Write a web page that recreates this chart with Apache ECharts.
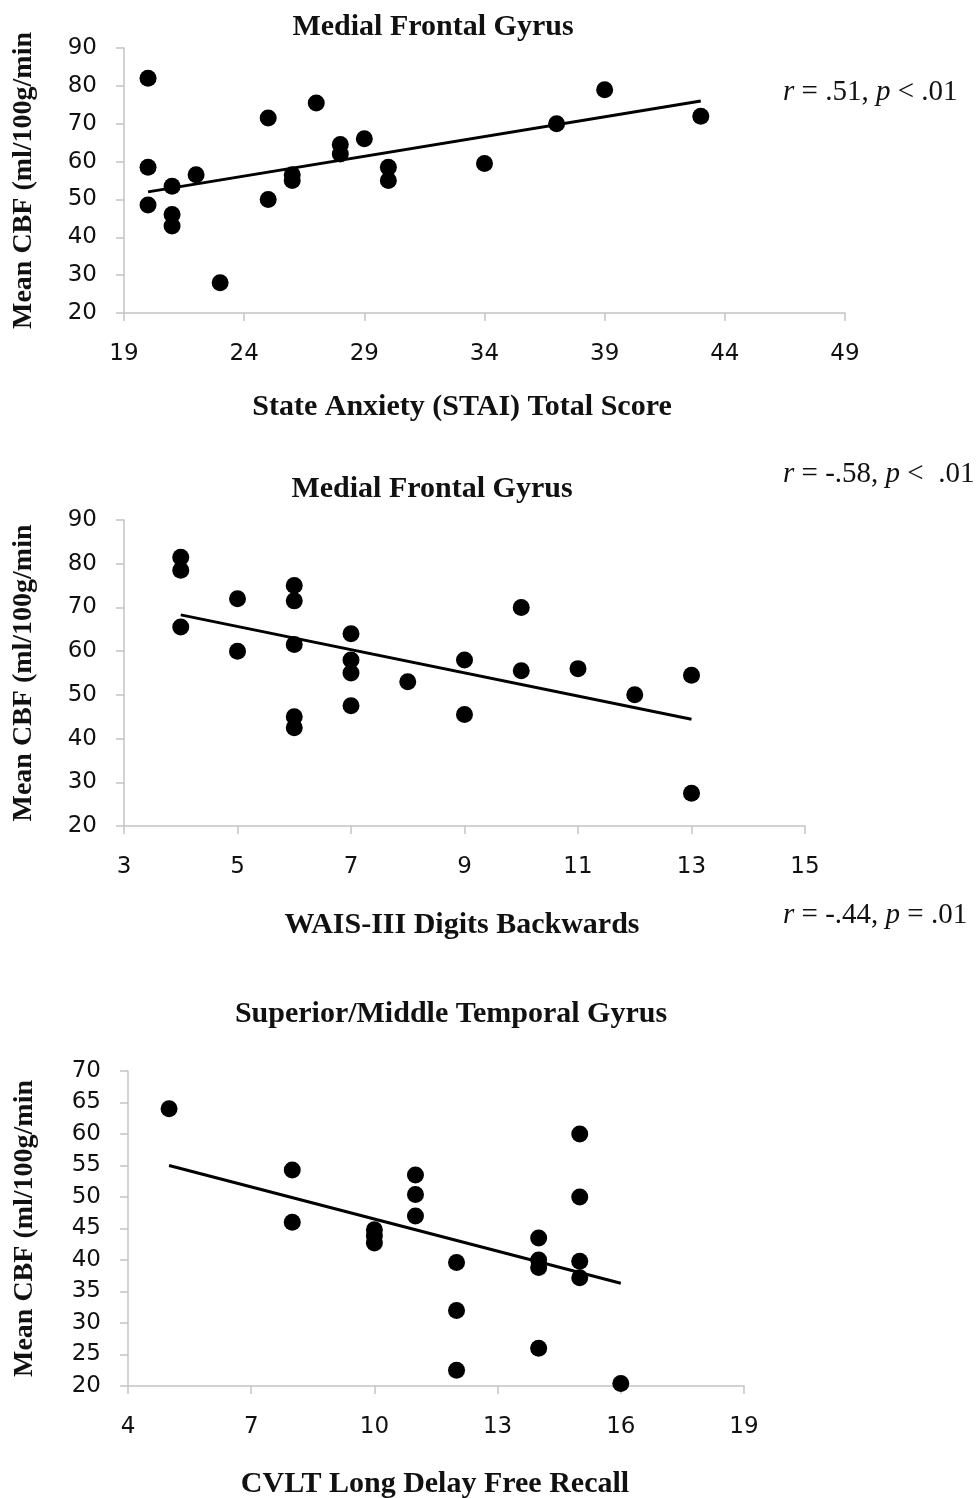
<!DOCTYPE html>
<html>
<head>
<meta charset="utf-8">
<title>CBF correlations</title>
<script src="https://cdn.jsdelivr.net/npm/echarts@6/dist/echarts.min.js"></script>
<style>
  html, body { margin: 0; padding: 0; background: #fff; }
  #chart { width: 980px; height: 1498px; }
</style>
</head>
<body>
<div id="chart"></div>
<script>
// panel 1: state anxiety vs medial frontal CBF
const anxietyScore = [20, 20, 20, 21, 21, 21, 22, 23, 25, 25, 26, 26, 27, 28, 28, 29, 30, 30, 34, 37, 39, 43]
const anxietyCbf = [82, 58.5, 48.5, 53.5, 46, 43, 56.5, 28, 71.5, 50, 56.5, 55, 75.5, 64.5, 62, 66, 58.5, 55, 59.5, 70, 79, 72]
const anxietyFitX = [20, 43]
const anxietyFitY = [52, 76]
const anxietyTicks = [19, 24, 29, 34, 39, 44, 49]

// panel 2: digits backwards vs medial frontal CBF
const digitsScore = [4, 4, 4, 5, 5, 6, 6, 6, 6, 6, 7, 7, 7, 7, 8, 9, 9, 10, 10, 11, 12, 13, 13]
const digitsCbf = [81.5, 78.5, 65.5, 72, 60, 75, 71.5, 61.5, 45, 42.5, 64, 58, 55, 47.5, 53, 58, 45.5, 70, 55.5, 56, 50, 54.5, 27.5]
const digitsFitX = [4, 13]
const digitsFitY = [68.3, 44.4]
const digitsTicks = [3, 5, 7, 9, 11, 13, 15]

// panel 3: CVLT recall vs temporal CBF
const recallScore = [5, 8, 8, 10, 10, 10, 11, 11, 11, 12, 12, 12, 14, 14, 14, 14, 15, 15, 15, 15, 16]
const recallCbf = [64, 54.3, 46, 44.8, 43.8, 42.7, 53.5, 50.4, 47, 39.6, 32, 22.5, 43.5, 40, 38.8, 26, 60, 50, 39.8, 37.2, 20.4]
const recallFitX = [5, 16]
const recallFitY = [55, 36.3]
const recallTicks = [4, 7, 10, 13, 16, 19]

const yName = 'Mean CBF (ml/100g/min'
const serif = '"Liberation Serif", "Times New Roman", serif'
const sans = '"DejaVu Sans", sans-serif'
const axisGray = '#c4c4c4'

const chart = echarts.init(document.getElementById('chart'))

const pairs = (xs, ys) => xs.map((x, i) => [x, ys[i]])

const makeX = (grid, ticks) => ({
  type: 'value',
  gridIndex: grid,
  min: ticks[0],
  max: ticks[ticks.length - 1],
  axisLine: { show: true, lineStyle: { color: axisGray, width: 1.5 } },
  axisTick: { show: true, length: 8, customValues: ticks, lineStyle: { color: axisGray, width: 1.5 } },
  axisLabel: { customValues: ticks, margin: 30, color: '#111', fontSize: 23, fontFamily: sans },
  splitLine: { show: false }
})

const makeY = (grid, min, max, step, gap) => ({
  type: 'value',
  gridIndex: grid,
  min: min,
  max: max,
  interval: step,
  name: yName,
  nameLocation: 'middle',
  nameRotate: 90,
  nameGap: gap,
  nameTextStyle: { fontFamily: serif, fontWeight: 'bold', fontSize: 28, color: '#111' },
  axisLine: { show: true, lineStyle: { color: axisGray, width: 1.5 } },
  axisTick: { show: true, length: 8, lineStyle: { color: axisGray, width: 1.5 } },
  axisLabel: { margin: 27, color: '#111', fontSize: 23, fontFamily: sans },
  splitLine: { show: false }
})

const dots = (idx, xs, ys) => ({
  type: 'scatter',
  xAxisIndex: idx,
  yAxisIndex: idx,
  symbolSize: 17,
  itemStyle: { color: '#000', opacity: 1 },
  data: pairs(xs, ys)
})

const fit = (idx, xs, ys) => ({
  type: 'line',
  xAxisIndex: idx,
  yAxisIndex: idx,
  showSymbol: false,
  lineStyle: { color: '#000', width: 3 },
  data: pairs(xs, ys)
})

const label = (text, x, y, size, bold) => ({
  type: 'text',
  x: x,
  y: y,
  style: {
    text: text,
    fontFamily: serif,
    fontSize: size,
    fontWeight: bold ? 'bold' : 'normal',
    fill: '#111',
    align: 'center',
    verticalAlign: 'middle'
  }
})

// r/p annotations with italic letters
const stat = (text, x, y) => ({
  type: 'text',
  x: x,
  y: y,
  style: {
    text: text,
    fontFamily: serif,
    fontSize: 29,
    fill: '#111',
    verticalAlign: 'middle',
    rich: {
      i: { fontStyle: 'italic', fontFamily: serif, fontSize: 29, fill: '#111' }
    }
  }
})

const option = {
  animation: false,
  backgroundColor: '#fff',
  grid: [
    { left: 124, right: 135, top: 48, height: 265 },
    { left: 124, right: 175, top: 520, height: 306 },
    { left: 128, right: 236, top: 1071, height: 315 }
  ],
  xAxis: [
    makeX(0, anxietyTicks),
    makeX(1, digitsTicks),
    makeX(2, recallTicks)
  ],
  yAxis: [
    makeY(0, 20, 90, 10, 86),
    makeY(1, 20, 90, 10, 86),
    makeY(2, 20, 70, 5, 89)
  ],
  series: [
    dots(0, anxietyScore, anxietyCbf),
    fit(0, anxietyFitX, anxietyFitY),
    dots(1, digitsScore, digitsCbf),
    fit(1, digitsFitX, digitsFitY),
    dots(2, recallScore, recallCbf),
    fit(2, recallFitX, recallFitY)
  ],
  graphic: [
    label('Medial Frontal Gyrus', 433, 27, 30, true),
    label('State Anxiety (STAI) Total Score', 462, 407, 30, true),
    label('Medial Frontal Gyrus', 432, 489, 30, true),
    label('WAIS-III Digits Backwards', 462, 925, 30, true),
    label('Superior/Middle Temporal Gyrus', 451, 1014, 30, true),
    label('CVLT Long Delay Free Recall', 435, 1484, 30, true),
    stat('{i|r} = .51, {i|p} < .01', 783, 92),
    stat('{i|r} = -.58, {i|p} <  .01', 783, 474),
    stat('{i|r} = -.44, {i|p} = .01', 783, 915)
  ]
}

chart.setOption(option)
</script>
</body>
</html>
